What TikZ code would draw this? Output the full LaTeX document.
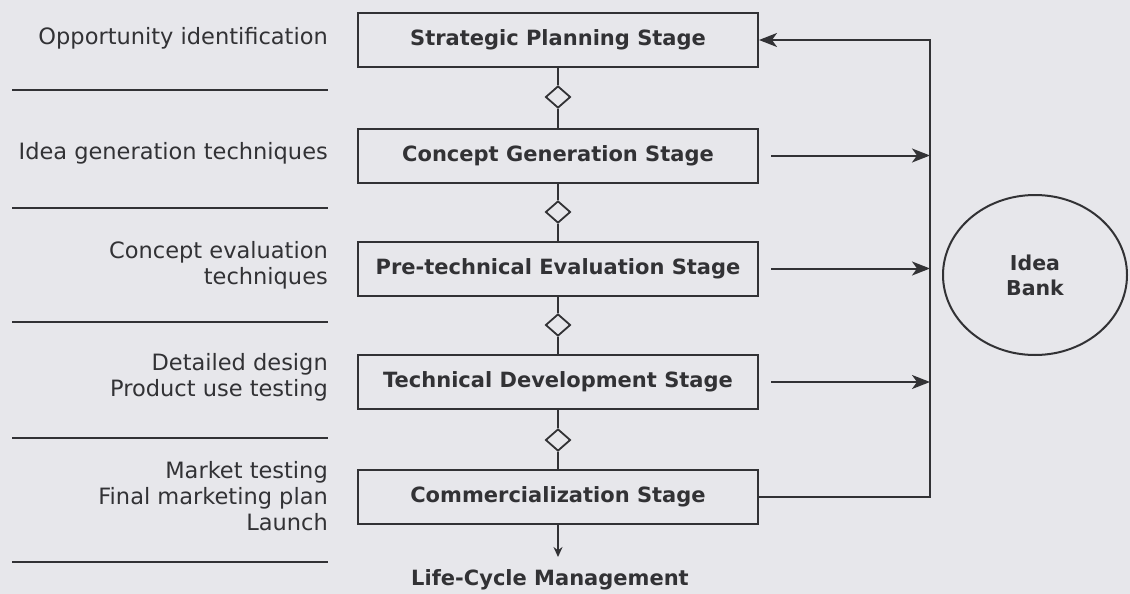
\documentclass[tikz,border=0pt]{standalone}
\usepackage{fontspec}
\setmainfont{DejaVu Sans}
\usetikzlibrary{arrows.meta,shapes.geometric}
\definecolor{bg}{RGB}{231,231,235}
\definecolor{ink}{RGB}{50,50,53}
\begin{document}
\begin{tikzpicture}[x=1pt,y=-1pt,
  stagebox/.style={draw=ink, line width=2pt, minimum width=400pt, minimum height=54pt,
    font=\fontsize{21}{24}\selectfont\bfseries, text=ink, inner sep=0pt, fill=bg},
  gate/.style={diamond, draw=ink, line width=1.8pt, minimum width=25pt, minimum height=22pt,
    inner sep=0pt, fill=bg},
  lbl/.style={anchor=east, align=right, font=\fontsize{22.5}{26}\selectfont, text=ink, inner sep=0pt},
  sep/.style={draw=ink, line width=1.8pt},
  conn/.style={draw=ink, line width=2pt},
  arr/.style={conn, -{Stealth[length=18pt,width=14pt,inset=5pt]}},
]
\fill[bg] (0,0) rectangle (1130,594);
\useasboundingbox (0,0) rectangle (1130,594);

% stages
\node[stagebox] (s1) at (558,40) {Strategic Planning Stage};
\node[stagebox] (s2) at (558,155.5) {Concept Generation Stage};
\node[stagebox] (s3) at (558,268.5) {Pre-technical Evaluation Stage};
\node[stagebox] (s4) at (558,382) {Technical Development Stage};
\node[stagebox] (s5) at (558,496.5) {Commercialization Stage};

% gates
\node[gate] (g1) at (558,97) {};
\node[gate] (g2) at (558,212) {};
\node[gate] (g3) at (558,325) {};
\node[gate] (g4) at (558,440) {};

\draw[conn] (s1) -- (g1) -- (s2);
\draw[conn] (s2) -- (g2) -- (s3);
\draw[conn] (s3) -- (g3) -- (s4);
\draw[conn] (s4) -- (g4) -- (s5);

% life-cycle
\node[font=\fontsize{21}{24}\selectfont\bfseries, text=ink] (lcm) at (550,580) {Life-Cycle Management};
\coordinate (lcmtop) at (558,557);
\draw[conn, -{Stealth[length=10pt,width=9pt]}] (s5.south) -- (lcmtop);

% idea bank
\node[ellipse, draw=ink, line width=2pt, minimum width=184pt, minimum height=160pt,
  font=\fontsize{20.5}{25}\selectfont\bfseries, text=ink, align=center, inner sep=0pt] (bank) at (1035,275) {Idea\\Bank};

% feedback loop
\coordinate (rt) at (930,40);
\coordinate (rx) at (930,0);
\draw[arr] (s5.east) -| (rt) -- (s1.east);
\draw[arr] ([xshift=12pt]s2.east) -- (s2.east -| rx);
\draw[arr] ([xshift=12pt]s3.east) -- (s3.east -| rx);
\draw[arr] ([xshift=12pt]s4.east) -- (s4.east -| rx);

% left labels
\node[lbl] (l1) at (328,38) {Opportunity identification};
\node[lbl] (l2) at (328,153) {Idea generation techniques};
\node[lbl] (l3) at (328,265) {Concept evaluation\\techniques};
\node[lbl] (l4) at (328,377) {Detailed design\\Product use testing};
\node[lbl] (l5) at (328,496) {Market testing\\Final marketing plan\\Launch};

\draw[sep] (12,90) -- (328,90);
\draw[sep] (12,208) -- (328,208);
\draw[sep] (12,322) -- (328,322);
\draw[sep] (12,438) -- (328,438);
\draw[sep] (12,562) -- (328,562);
\end{tikzpicture}
\end{document}
